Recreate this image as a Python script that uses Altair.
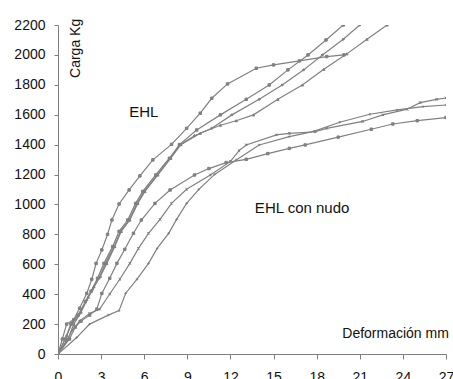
import altair as alt
import pandas as pd

# ---- data (Deformación mm, Carga Kg) ----
A_x = [0, 0.3, 0.6, 1.1, 1.5, 2.0, 2.35, 2.65, 3.05, 3.45, 3.75, 4.25, 4.95, 5.7, 6.6, 7.9, 8.95, 9.9, 10.7, 11.8, 13.8, 15.0, 16.8, 18.7, 19.9]
A_y = [0, 100, 200, 230, 306, 405, 500, 606, 696, 800, 896, 1003, 1097, 1191, 1298, 1402, 1509, 1610, 1710, 1806, 1911, 1933, 1960, 1989, 2000]

B_x = [0, 0.5, 0.9, 1.4, 1.9, 2.3, 2.75, 3.2, 3.8, 4.25, 4.85, 5.4, 5.9, 6.8, 7.75, 8.45, 9.65, 11.3, 13.1, 14.7, 16.0, 17.4, 18.65, 19.85]
B_y = [0, 100, 200, 260, 350, 420, 506, 606, 718, 820, 896, 1007, 1087, 1197, 1309, 1400, 1498, 1599, 1703, 1799, 1900, 2000, 2100, 2200]

C_x = [0, 0.6, 1.0, 1.5, 2.0, 2.4, 2.85, 3.3, 3.9, 4.35, 4.95, 5.5, 6.0, 6.9, 7.8, 8.5, 9.5, 10.7, 12.1, 14.0, 15.6, 17.1, 18.4, 19.85, 21.0]
C_y = [0, 120, 210, 270, 360, 430, 506, 606, 718, 820, 896, 1007, 1087, 1197, 1309, 1400, 1460, 1510, 1599, 1703, 1799, 1900, 2000, 2105, 2200]

D_x = [0, 0.7, 1.1, 1.6, 2.1, 2.5, 2.95, 3.4, 3.95, 4.4, 5.0, 5.55, 6.05, 6.95, 7.85, 8.55, 9.9, 11.3, 12.4, 13.6, 15.3, 17.0, 18.5, 20.1, 21.5, 22.9]
D_y = [0, 100, 200, 280, 380, 450, 520, 606, 718, 820, 896, 1007, 1087, 1197, 1309, 1400, 1476, 1530, 1560, 1599, 1703, 1799, 1904, 2007, 2105, 2200]

E_x = [0, 0.8, 1.2, 1.6, 2.2, 2.7, 3.05, 3.6, 4.1, 4.65, 5.25, 5.8, 6.75, 7.8, 9.5, 10.5, 11.7, 13.1, 14.6, 16.1, 17.2, 19.5, 21.8, 23.3, 25.0, 27.0]
E_y = [0, 100, 180, 220, 260, 300, 405, 506, 606, 700, 807, 896, 1007, 1097, 1197, 1240, 1280, 1302, 1340, 1375, 1398, 1450, 1503, 1538, 1560, 1581]

F_x = [0, 0.6, 1.0, 1.5, 2.2, 2.9, 3.6, 4.3, 5.0, 5.6, 6.3, 7.1, 7.9, 8.95, 10.6, 12.0, 12.6, 13.1, 15.2, 16.1, 17.9, 18.7, 21.2, 22.6, 24.3, 25.2, 26.35, 27.0]
F_y = [0, 90, 160, 220, 270, 300, 401, 500, 606, 706, 807, 900, 1007, 1101, 1197, 1288, 1360, 1398, 1465, 1475, 1486, 1509, 1555, 1599, 1637, 1681, 1703, 1712]

G_x = [0, 1.3, 2.2, 3.5, 4.25, 4.7, 5.5, 6.3, 6.9, 7.7, 8.25, 8.95, 9.8, 10.9, 12.4, 14.0, 16.1, 17.8, 19.6, 21.7, 23.6, 25.4, 27.0]
G_y = [0, 110, 200, 260, 290, 405, 500, 606, 706, 807, 900, 1007, 1101, 1201, 1298, 1398, 1454, 1489, 1550, 1603, 1632, 1654, 1665]

series_names = ["A", "B", "C", "D", "E", "F", "G"]
series_data = [(A_x, A_y), (B_x, B_y), (C_x, C_y), (D_x, D_y), (E_x, E_y), (F_x, F_y), (G_x, G_y)]
series_shapes = ["square", "square", "diamond", "triangle-up", "square",
                 "M-1,-1L1,1M-1,1L1,-1M0,-1L0,1", "M0,-1L0,1M-1,0L1,0"]

x_ticks = [0, 3, 6, 9, 12, 15, 18, 21, 24, 27]
y_ticks = [0, 200, 400, 600, 800, 1000, 1200, 1400, 1600, 1800, 2000, 2200]

ann_text = ["Carga Kg", "EHL", "EHL con nudo", "Deformación mm"]
ann_x = [1.53, 4.95, 13.7, 27.2]
ann_y = [1846, 1585, 943, 107]

rows = []
for name, (xs, ys) in zip(series_names, series_data):
    for i, (xv, yv) in enumerate(zip(xs, ys)):
        rows.append({"serie": name, "x": xv, "y": yv, "ord": i})
df = pd.DataFrame(rows)

GRAY = "#808080"
FONT = "Liberation Sans"

xscale = alt.Scale(domain=[0, 27], nice=False)
yscale = alt.Scale(domain=[0, 2200], nice=False)

xax = alt.Axis(values=x_ticks, title=None, grid=False, tickSize=5, labelPadding=11,
               domainColor=GRAY, tickColor=GRAY, labelColor="#111111", format="d",
               labelFont=FONT, labelFontSize=14, labelFlush=False, labelOverlap=False)
yax = alt.Axis(values=y_ticks, title=None, grid=False, tickSize=4, labelPadding=9,
               domainColor=GRAY, tickColor=GRAY, labelColor="#111111", format="d",
               labelFont=FONT, labelFontSize=14, labelFlush=False, labelOverlap=False)

base = alt.Chart(df).encode(
    x=alt.X("x:Q", scale=xscale, axis=xax),
    y=alt.Y("y:Q", scale=yscale, axis=yax),
    detail="serie:N",
    order="ord:Q",
)

lines = base.mark_line(color=GRAY, strokeWidth=1.2, clip=True)
points = base.mark_point(filled=True, size=6, fill=GRAY, stroke=GRAY, strokeWidth=1.0, opacity=1, clip=True).encode(
    shape=alt.Shape("serie:N", scale=alt.Scale(domain=series_names, range=series_shapes), legend=None)
)

def ann(i, **kw):
    d = pd.DataFrame({"x": [ann_x[i]], "y": [ann_y[i]], "t": [ann_text[i]]})
    return alt.Chart(d).mark_text(font=FONT, color="#111111", baseline="alphabetic", **kw).encode(
        x=alt.X("x:Q", scale=xscale, axis=xax), y=alt.Y("y:Q", scale=yscale, axis=yax), text="t:N")

t0 = ann(0, angle=270, align="left", fontSize=14)
t1 = ann(1, align="left", fontSize=15)
t2 = ann(2, align="left", fontSize=15)
t3 = ann(3, align="right", fontSize=14)

chart = alt.layer(lines, points, t0, t1, t2, t3).properties(
    width=388, height=329,
    autosize=alt.AutoSizeParams(type="none"),
    padding={"left": 58, "top": 25, "right": 7, "bottom": 25},
    background="white",
).configure_view(stroke=None)

chart.save("out.html", embed_options={"renderer": "svg", "actions": False})
